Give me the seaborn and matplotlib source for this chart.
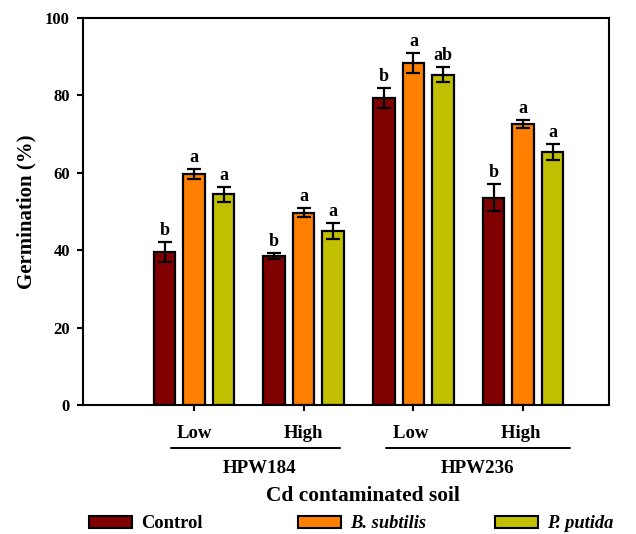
import numpy as np
import pandas as pd
import matplotlib
matplotlib.use('Agg')
import matplotlib.pyplot as plt
import seaborn as sns

# Du lieu doc tu hinh
levels = ['Low', 'High', 'Low ', 'High ']
soils = ['HPW184', 'HPW236']
treatments = ['Control', 'B. subtilis', 'P. putida']
control = [39.6, 38.5, 79.4, 53.6]
subtilis = [59.7, 49.7, 88.4, 72.7]
putida = [54.4, 45.0, 85.4, 65.3]
control_err = [2.6, 0.8, 2.6, 3.4]
subtilis_err = [1.2, 1.2, 2.6, 1.0]
putida_err = [1.9, 2.0, 1.9, 2.1]
control_sig = ['b', 'b', 'b', 'b']
subtilis_sig = ['a', 'a', 'a', 'a']
putida_sig = ['a', 'a', 'ab', 'a']

colors = ['#800000', '#FF8000', '#C0C000']

sns.set_style('ticks')
plt.rcParams['font.family'] = ['Liberation Serif', 'DejaVu Serif']
plt.rcParams['font.weight'] = 'bold'
for k in ['text.color', 'axes.labelcolor', 'xtick.color', 'ytick.color', 'axes.edgecolor']:
    plt.rcParams[k] = 'black'

df = pd.DataFrame({
    'level': levels * 3,
    'treatment': np.repeat(treatments, 4),
    'value': control + subtilis + putida,
    'err': control_err + subtilis_err + putida_err,
    'sig': control_sig + subtilis_sig + putida_sig,
})

fig = plt.figure(figsize=(6.36, 5.34), dpi=100)
ax = fig.add_axes([83 / 636, 129 / 534, 526 / 636, 387 / 534])

sns.barplot(data=df, x='level', y='value', hue='treatment', order=levels,
            hue_order=treatments, palette=colors, saturation=1, width=0.807,
            gap=0.27, edgecolor='black', linewidth=1.6, errorbar=None,
            legend=False, ax=ax)

# error bars + chu cai
for t_i, t in enumerate(treatments):
    sub = df[df['treatment'] == t].set_index('level').loc[levels]
    bars = ax.containers[t_i]
    xs = [b.get_x() + b.get_width() / 2 for b in bars]
    ax.errorbar(xs, sub['value'], yerr=sub['err'], fmt='none', ecolor='black',
                elinewidth=1.6, capsize=4.7, capthick=1.6, zorder=5)
    for x, v, e, s in zip(xs, sub['value'], sub['err'], sub['sig']):
        ax.text(x, v + e + 0.8, s, ha='center', va='bottom', fontsize=13,
                fontweight='bold')

ax.set_xlim(-1.012, 3.783)
ax.set_ylim(0, 100)
ax.set_yticks([0, 20, 40, 60, 80, 100])
for side in ['top', 'right', 'left', 'bottom']:
    ax.spines[side].set_visible(True)
    ax.spines[side].set_linewidth(1.5)
ax.tick_params(axis='both', direction='out', width=1.5, length=4.5)
ax.tick_params(axis='y', labelsize=12, pad=5)
ax.tick_params(axis='x', labelsize=13.5, pad=10)
for lab in ax.get_xticklabels() + ax.get_yticklabels():
    lab.set_fontweight('bold')
ax.set_ylabel('Germination (%)', fontsize=15, fontweight='bold', labelpad=6)
ax.set_xlabel('')

# nhom dat
trans = ax.get_xaxis_transform()
for (x0, x1), xt, name in zip([(-0.212, 1.331), (1.75, 3.428)], [0.593, 2.58], soils):
    ax.plot([x0, x1], [-0.112, -0.112], color='black', lw=1.4,
            transform=trans, clip_on=False)
    ax.text(xt, -0.165, name, transform=trans, ha='center',
            va='center', fontsize=13.7, fontweight='bold')
ax.text(0.532, -0.234, 'Cd contaminated soil', transform=ax.transAxes,
        ha='center', va='center', fontsize=15.4, fontweight='bold')

# chu thich: ba muc dat rieng
leg_x = [89 / 636, 298 / 636, 495 / 636]
for i, (c, t, lx) in enumerate(zip(colors, treatments, leg_x)):
    h = plt.Rectangle((0, 0), 1, 1, facecolor=c, edgecolor='black', lw=1.5)
    leg = fig.legend([h], [t], loc='center left', bbox_to_anchor=(lx, 10 / 534),
                     frameon=False, fontsize=13.3, handlelength=2.32,
                     handleheight=0.6, handletextpad=0.5, borderpad=0,
                     borderaxespad=0)
    txt = leg.get_texts()[0]
    txt.set_fontweight('bold')
    if i > 0:
        txt.set_fontstyle('italic')

fig.savefig('out.png', dpi=100)
